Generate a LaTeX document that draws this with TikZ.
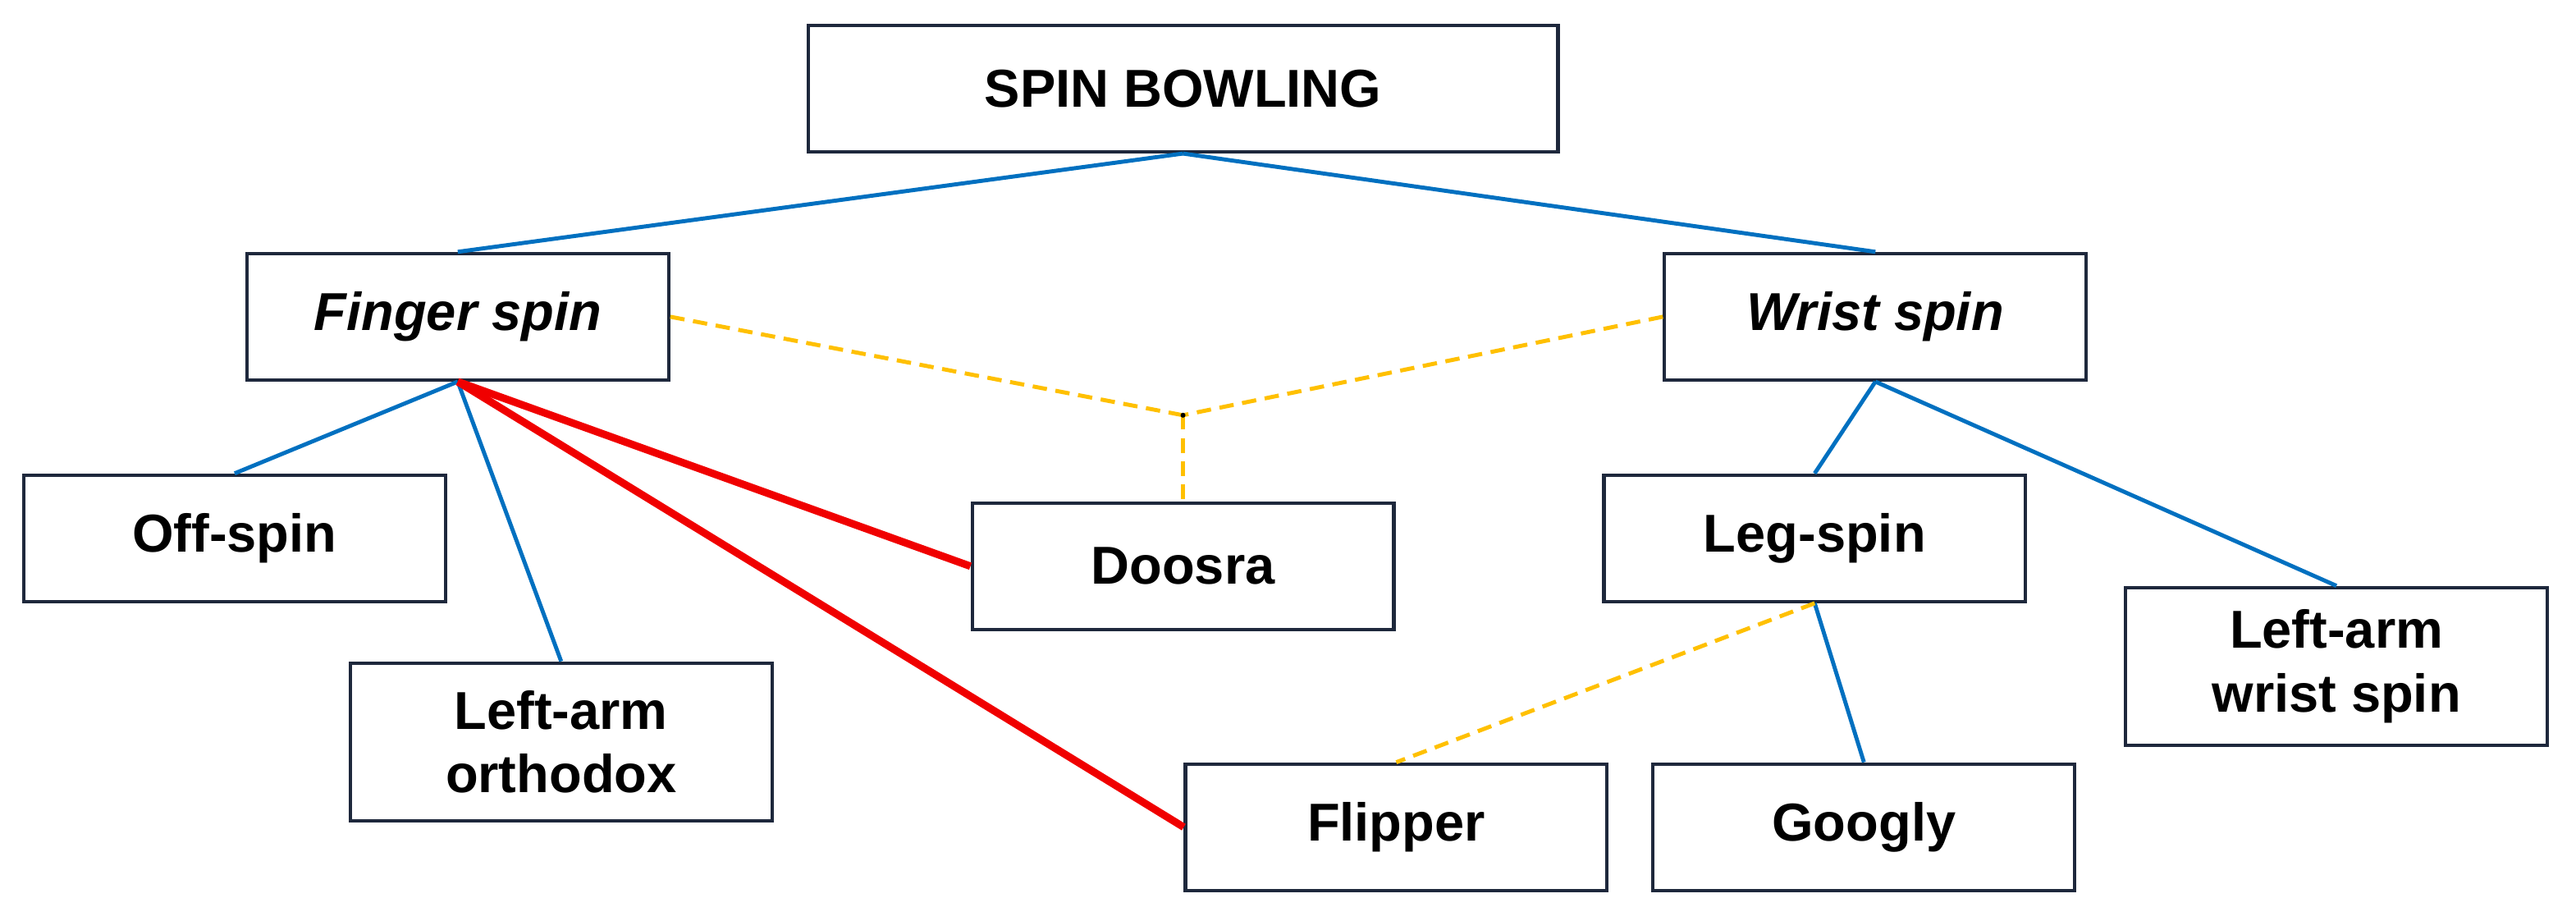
\documentclass[tikz,border=0pt]{standalone}
\usepackage{fontspec}
\setmainfont{Liberation Sans}
\begin{document}
\begin{tikzpicture}[x=0.02cm,y=-0.02cm,
  box/.style={draw={rgb,255:red,30;green,40;blue,60},line width=1.2pt,fill=white,minimum width=257*0.02cm,minimum height=77*0.02cm,align=center,font=\fontsize{18.5}{22}\selectfont\bfseries},
  tall/.style={box,minimum height=96*0.02cm},
  blue/.style={draw={rgb,255:red,0;green,112;blue,192},line width=1.4pt},
  red/.style={draw={rgb,255:red,240;green,0;blue,0},line width=2.6pt},
  yel/.style={draw={rgb,255:red,255;green,192;blue,0},line width=1.4pt,dash pattern=on 5pt off 3pt}]
\useasboundingbox (0,0) rectangle (1570,561);
\node[box,minimum width=457*0.02cm] (sb) at (721,54) {SPIN BOWLING};
\node[box] (fs) at (279,193) {\itshape Finger spin};
\node[box] (ws) at (1143,193) {\itshape Wrist spin};
\node[box] (os) at (143,328) {Off-spin};
\node[tall] (lo) at (342,452) {Left-arm\\orthodox};
\node[box] (do) at (721,345) {Doosra};
\node[box] (ls) at (1106,328) {Leg-spin};
\node[tall] (lw) at (1424,406) {Left-arm\\wrist spin};
\node[box] (fl) at (851,504) {Flipper};
\node[box] (go) at (1136,504) {Googly};
\coordinate (j) at (721,253);
\draw[blue] (sb.south) -- (fs.north);
\draw[blue] (sb.south) -- (ws.north);
\draw[blue] (fs.south) -- (os.north);
\draw[blue] (fs.south) -- (lo.north);
\draw[blue] (ws.south) -- (ls.north);
\draw[blue] (ws.south) -- (lw.north);
\draw[blue] (ls.south) -- (go.north);
\draw[red] (fs.south) -- (do.west);
\draw[red] (fs.south) -- (fl.west);
\draw[yel] (fs.east) -- (j);
\draw[yel] (ws.west) -- (j);
\draw[yel] (j) -- (do.north);
\draw[yel] (ls.south) -- (fl.north);
\fill (j) circle (1.5);
\end{tikzpicture}
\end{document}
